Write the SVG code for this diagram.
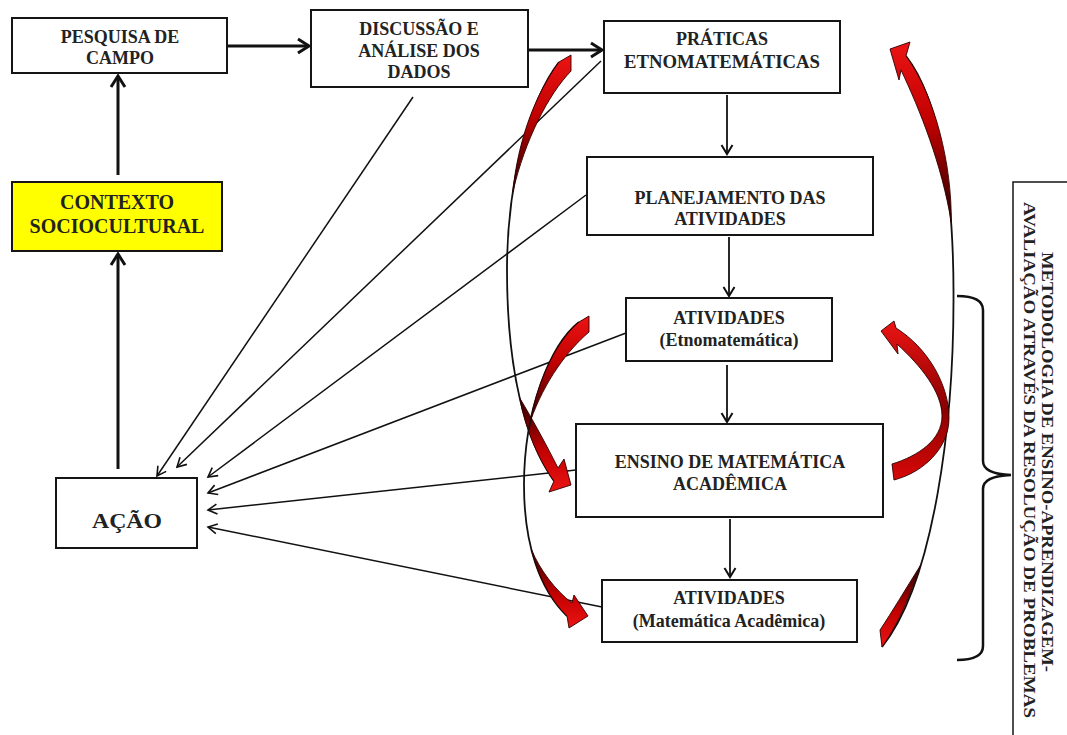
<svg xmlns="http://www.w3.org/2000/svg" width="1067" height="735" viewBox="0 0 1067 735">
<defs>
<style>
.box{fill:#fff;stroke:#151515;stroke-width:2}
.hl{fill:#ffff00}
.t{font-family:"Liberation Serif","Times New Roman",serif;font-weight:bold;font-size:18px;fill:#222;text-anchor:middle}
.tv{font-family:"Liberation Serif","Times New Roman",serif;font-weight:bold;font-size:17px;fill:#222}
.thick{stroke:#111;stroke-width:3;fill:none}
.mid{stroke:#111;stroke-width:1.8;fill:none}
.thin{stroke:#111;stroke-width:1.5;fill:none}
.arc{stroke:#141010;stroke-width:1.8;fill:none}
.rA{fill:url(#gA);stroke:#300000;stroke-width:0.9;stroke-linejoin:round}
.rB{fill:url(#gB);stroke:#300000;stroke-width:0.9;stroke-linejoin:round}
.rC{fill:url(#gC);stroke:#300000;stroke-width:0.9;stroke-linejoin:round}
</style>
<linearGradient id="gA" x1="0" y1="0" x2="0" y2="1">
<stop offset="0" stop-color="#ec1414"/>
<stop offset="0.45" stop-color="#c00000"/>
<stop offset="1" stop-color="#2a0000"/>
</linearGradient>
<linearGradient id="gB" x1="0" y1="0" x2="0" y2="1">
<stop offset="0" stop-color="#2a0000"/>
<stop offset="0.55" stop-color="#c00000"/>
<stop offset="1" stop-color="#ec1414"/>
</linearGradient>
<linearGradient id="gC" x1="0" y1="0" x2="0" y2="1">
<stop offset="0" stop-color="#ec1414"/>
<stop offset="0.55" stop-color="#8a0000"/>
<stop offset="1" stop-color="#d80808"/>
</linearGradient>
<marker id="mThick" viewBox="-14 -9 16 18" markerWidth="16" markerHeight="18" refX="0" refY="0" orient="auto" markerUnits="userSpaceOnUse">
<path d="M-11,-7 L0,0 L-11,7" fill="none" stroke="#111" stroke-width="3"/>
</marker>
<marker id="mMid" viewBox="-12 -7 14 14" markerWidth="14" markerHeight="14" refX="0" refY="0" orient="auto" markerUnits="userSpaceOnUse">
<path d="M-9,-5.5 L0,0 L-9,5.5" fill="none" stroke="#111" stroke-width="2"/>
</marker>
<marker id="mThin" viewBox="-12 -7 14 14" markerWidth="14" markerHeight="14" refX="0" refY="0" orient="auto" markerUnits="userSpaceOnUse">
<path d="M-9,-5 L0,0 L-9,5" fill="none" stroke="#111" stroke-width="1.6"/>
</marker>
</defs>
<rect width="1067" height="735" fill="#fff"/>

<g id="connectors">
<line class="thick" x1="228" y1="46" x2="309" y2="46" marker-end="url(#mThick)"/>
<line class="thick" x1="528" y1="50" x2="602" y2="50" marker-end="url(#mThick)"/>
<line class="thick" x1="118" y1="175" x2="118" y2="76" marker-end="url(#mThick)"/>
<line class="thick" x1="118" y1="469" x2="118" y2="254" marker-end="url(#mThick)"/>
<line class="mid" x1="727" y1="95" x2="727" y2="154" marker-end="url(#mMid)"/>
<line class="mid" x1="729" y1="237" x2="729" y2="296" marker-end="url(#mMid)"/>
<line class="mid" x1="727" y1="365" x2="727" y2="422" marker-end="url(#mMid)"/>
<line class="mid" x1="730" y1="519" x2="730" y2="577" marker-end="url(#mMid)"/>
<line class="thin" x1="413" y1="97" x2="157" y2="476" marker-end="url(#mThin)"/>
<line class="thin" x1="601" y1="61" x2="177" y2="467" marker-end="url(#mThin)"/>
<line class="thin" x1="586" y1="195" x2="208" y2="477" marker-end="url(#mThin)"/>
<line class="thin" x1="626" y1="333" x2="208" y2="493" marker-end="url(#mThin)"/>
<line class="thin" x1="576" y1="470" x2="208" y2="510" marker-end="url(#mThin)"/>
<line class="thin" x1="602" y1="607" x2="208" y2="527" marker-end="url(#mThin)"/>
<g id="feedback-arrows">
<g id="loop-left-big">
<path class="arc" d="M559,62 C530,100 507,180 507,270 C507,370 525,440 554,481"/>
<path class="rA" d="M559,62 L571,55 L571,71 C548,95 525,140 512.8,192 C518,140 535,95 559,62 Z"/>
<path class="rB" d="M519.7,398 C533,420 548,448 558,468 L564,459 L571,485 L549,492 L554,481 C540,462 526,432 519.7,398 Z"/>
</g>
<g id="loop-left-small">
<path class="arc" d="M579,322 C550,345 524,410 524,485 C524,545 540,590 567,616"/>
<path class="rA" d="M579,322 L589,316 L589,332 C568,350 545,380 530.4,421 C536,390 552,345 579,322 Z"/>
<path class="rB" d="M531.4,549.5 C540,570 555,590 572,603 L574,595 L588,616 L569,628 L567,616 C550,600 538,575 531.4,549.5 Z"/>
</g>
<g id="loop-right-big">
<path class="arc" d="M906,56 C940,100 954,190 953.5,300 C953.5,420 935,580 882,647"/>
<path class="rA" d="M906,56 C935,95 952,165 951.2,222 C942,165 920,110 901,70 L899,80 L890,49 L910,42 Z"/>
<path class="rB" d="M920.7,565 C905,590 892,612 880,630 L882,647 C898,625 910,595 920.7,565 Z"/>
</g>
<g id="loop-right-small">
<path class="rC" d="M896,328 C928,348 949,385 949,418 C949,448 924,472 894,480 L892,464 C918,456 942,440 942,416 C942,392 921,366 897,344 L898,354 L881,331 L894,321 Z"/>
</g>
</g>
<path id="brace" d="M957,296 Q983,296 983,310 L983,461 Q983,474 1011,475 Q983,476 983,489 L983,646 Q983,660 957,660" fill="none" stroke="#111" stroke-width="2.5"/>
</g>

<g id="pesquisa">
<rect class="box" x="12" y="18" width="215" height="55"/>
<text class="t" x="120" y="43">PESQUISA DE</text>
<text class="t" x="120" y="64">CAMPO</text>
</g>
<g id="discussao">
<rect class="box" x="311" y="10" width="217" height="77"/>
<text class="t" x="419" y="35">DISCUSSÃO E</text>
<text class="t" x="419" y="57">ANÁLISE DOS</text>
<text class="t" x="419" y="78">DADOS</text>
</g>
<g id="praticas">
<rect class="box" x="604" y="21" width="236" height="72"/>
<text class="t" x="722" y="45">PRÁTICAS</text>
<text class="t" x="722" y="68" textLength="196" lengthAdjust="spacingAndGlyphs">ETNOMATEMÁTICAS</text>
</g>
<g id="planejamento">
<rect class="box" x="587" y="157" width="286" height="78"/>
<text class="t" x="730" y="204">PLANEJAMENTO DAS</text>
<text class="t" x="730" y="225">ATIVIDADES</text>
</g>
<g id="atividades-etno">
<rect class="box" x="626" y="298" width="206" height="63"/>
<text class="t" x="729" y="324">ATIVIDADES</text>
<text class="t" x="729" y="346">(Etnomatemática)</text>
</g>
<g id="ensino">
<rect class="box" x="576" y="424" width="307" height="93"/>
<text class="t" x="730" y="468">ENSINO DE MATEMÁTICA</text>
<text class="t" x="730" y="490">ACADÊMICA</text>
</g>
<g id="atividades-mat">
<rect class="box" x="602" y="580" width="255" height="62"/>
<text class="t" x="729" y="604">ATIVIDADES</text>
<text class="t" x="729" y="627">(Matemática Acadêmica)</text>
</g>
<g id="contexto">
<rect class="box hl" x="12" y="182" width="210" height="69"/>
<text class="t" x="117" y="209" style="font-size:20px">CONTEXTO</text>
<text class="t" x="117" y="233" style="font-size:20px">SOCIOCULTURAL</text>
</g>
<g id="acao">
<rect class="box" x="56" y="478" width="141" height="70"/>
<text class="t" x="127" y="528" style="font-size:22px" textLength="70" lengthAdjust="spacingAndGlyphs">AÇÃO</text>
</g>
<g id="metodologia">
<rect x="1013" y="182" width="70" height="570" fill="#fff" stroke="#151515" stroke-width="1.5"/>
<text class="tv" transform="translate(1042,252) rotate(90)" textLength="420" lengthAdjust="spacingAndGlyphs">METODOLOGIA DE ENSINO-APRENDIZAGEM-</text>
<text class="tv" transform="translate(1024,202) rotate(90)" textLength="516" lengthAdjust="spacingAndGlyphs">AVALIAÇÃO ATRAVÉS DA RESOLUÇÃO DE PROBLEMAS</text>
</g>
</svg>
